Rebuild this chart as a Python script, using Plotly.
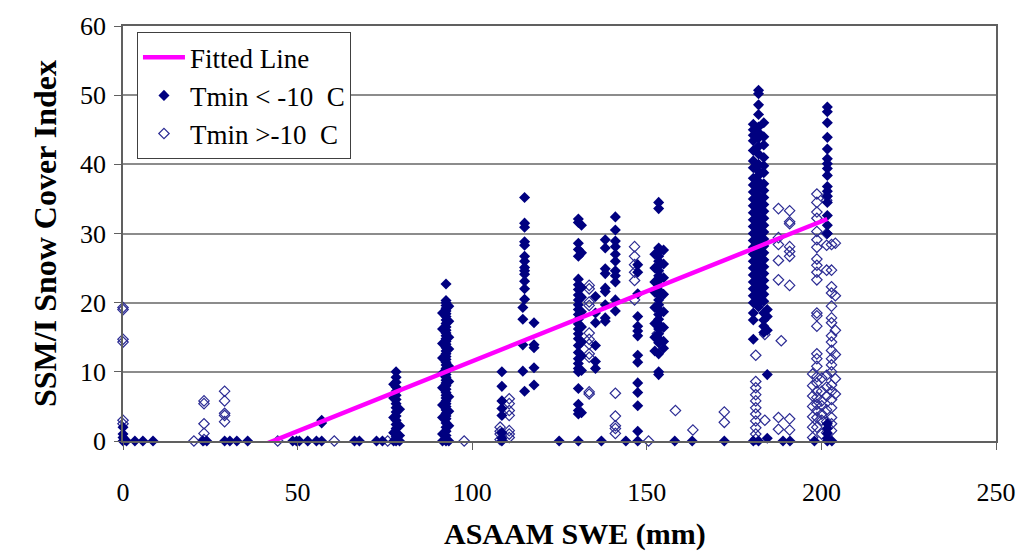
import plotly.graph_objects as go

# ---- Tmin < -10 C (filled diamonds): SWE column positions and the index values observed at each ----
cold_swe = [
    0, 1, 3.4, 5.7, 8.6, 22.9, 24, 29.1, 30.6, 32.6, 35.7, 48.6, 49.7, 50.5, 52.9,
    55.4, 56.9, 66.3, 67.7, 72.6, 74.3,
    77.5, 78.2, 79.2,
    91.5, 92.5, 93.3,
    108.5, 114.5, 115.0, 117.7, 124.9,
    130.4, 131.3, 135.3, 137.0, 138.1, 141.0, 144.0, 147.4,
    152.3, 153.4, 154.8, 158.0, 163.0, 172.2,
    180.5, 182.0, 183.5, 184.5, 189.0, 191.0, 198.0, 201.7, 203.0,
]
cold_sci = [
    [0, 0.5, 1.0, 2.0], [0], [0], [0], [0], [0], [0], [0], [0], [0], [0], [0], [0], [0], [0],
    [0], [0, 2.6, 3.0], [0], [0], [0], [0],
    [8.2, 6.2, 3.4, 1.2, 0],
    [10.0, 9.2, 8.5, 7.8, 7.2, 6.6, 6.0, 5.4, 4.8, 4.2, 3.6, 3.0, 2.4, 1.8, 1.2, 0.6, 0],
    [4.6, 2.2, 0.8, 0],
    [18.5, 16.2, 14.1, 12.0, 9.8, 7.7, 5.2, 3.4, 1.0, 0],
    [22.7, 20.3, 20.0, 19.6, 19.2, 18.8, 18.4, 18.0, 17.5, 17.0, 16.5, 16.0, 15.6, 15.2,
     14.8, 14.4, 14.0, 13.5, 13.0, 12.6, 12.2, 11.8, 11.4, 11.0, 10.5, 10.0, 9.6, 9.2,
     8.8, 8.4, 8.0, 7.5, 7.0, 6.6, 6.2, 5.8, 5.4, 5.0, 4.5, 4.0, 3.6, 3.2, 2.6, 2.0,
     1.4, 0.8, 0.3, 0],
    [19.5, 17.3, 15.0, 13.3, 10.8, 8.6, 6.4, 4.3, 2.2, 0],
    [10.0, 7.9, 5.8, 4.7, 3.7, 1.2, 0.4, 0],
    [19.3, 17.6, 13.9, 10.1],
    [35.2, 31.5, 30.9, 28.8, 28.3, 26.7, 26.0, 25.1, 24.6, 24.1, 23.1, 22.0, 20.5, 7.2],
    [17.1, 13.9, 13.5, 10.6, 8.1],
    [0],
    [32.1, 31.6, 28.6, 27.7, 26.7, 23.4, 22.6, 21.9, 21.1, 20.4, 19.7, 19.0, 18.3, 17.6,
     16.9, 16.2, 15.5, 14.8, 13.8, 12.8, 11.9, 11.2, 10.5, 10.0, 7.6, 5.3, 4.4, 3.9, 0],
    [31.2, 27.2, 22.2, 20.8, 18.7, 16.5, 14.3, 12.3, 10.2, 4.1],
    [20.9, 18.5, 17.1, 13.8, 11.5, 10.5],
    [0],
    [29.1, 27.9, 24.9, 24.2, 22.1, 21.6, 19.7, 17.8, 17.3],
    [32.4, 30.5, 28.9, 28.1, 27.0, 26.0, 24.6, 23.9, 23.0, 20.4, 18.8],
    [0],
    [25.5, 24.4, 21.3, 18.0, 16.6, 15.9, 15.2, 12.4, 11.4, 8.4, 7.0, 5.1, 1.4, 0],
    [27.0, 25.0, 23.0, 21.5, 19.3, 17.0, 15.0, 13.0],
    [34.5, 33.6, 27.9, 27.4, 26.7, 26.0, 25.3, 24.6, 23.9, 23.2, 22.5, 21.8, 21.1, 20.4,
     19.7, 19.0, 18.3, 17.6, 16.9, 16.2, 15.5, 14.8, 14.2, 12.6, 10.0, 9.6],
    [27.6, 25.6, 23.6, 21.2, 18.7, 16.4, 14.4, 13.4],
    [0], [0], [0],
    [45.8, 45.0, 44.2, 43.4, 42.0, 40.5, 39.5, 38.0, 37.0, 36.0, 35.0, 34.0, 33.0, 32.0,
     31.0, 30.0, 29.0, 28.0, 27.0, 26.0, 25.0, 24.0, 23.0, 22.0, 21.0, 20.0, 18.5, 17.5,
     14.7, 0],
    [50.7, 50.2, 48.6, 47.2, 45.4, 44.6, 43.8, 42.6, 41.5, 40.0, 39.0, 38.4, 37.5, 36.5,
     35.5, 34.5, 33.5, 32.5, 31.5, 30.5, 29.5, 28.5, 27.5, 26.5, 25.5, 24.5, 23.5, 22.5,
     21.5, 20.5, 19.9, 19.4, 0],
    [46.0, 44.0, 42.8, 41.0, 39.8, 38.8, 37.2, 36.2, 35.2, 34.2, 33.2, 32.2, 31.2, 30.2,
     29.2, 28.2, 27.2, 26.2, 25.2, 24.2, 23.2, 22.2, 21.2, 20.2, 18.5, 17.5, 16.6, 15.7],
    [19.0, 18.0, 16.0, 9.6, 0.4],
    [0], [0], [0],
    [48.3, 47.6, 46.0, 43.9, 42.2, 40.8, 40.1, 39.4, 38.4, 36.8, 36.1, 35.4, 34.5, 32.6,
     31.2, 30.0, 2.5, 1.8, 1.1, 0.4, 0],
    [0],
]

# ---- Tmin > -10 C (open diamonds) ----
warm_swe = [
    0, 20.3, 23.2, 29.1, 44.3, 60.5, 75.8, 97.7,
    108.0, 110.6, 133.5, 141.0, 146.5, 150.5, 153.0, 158.2, 163.2, 172.2,
    181.2, 183.8, 187.7, 188.5, 190.9,
    197.5, 198.7, 200.1, 201.5, 202.9, 204.0,
]
warm_sci = [
    [2.5, 3.0, 14.3, 14.7, 19.0, 19.3],
    [0],
    [5.8, 5.4, 2.5, 1.1, 0.2],
    [7.2, 5.8, 4.0, 3.7, 2.8],
    [0], [0], [0], [0],
    [2.0, 1.4, 1.0, 0.2],
    [6.1, 5.4, 4.4, 3.7, 1.5, 1.0, 0.5],
    [22.5, 22.0, 20.1, 19.6, 15.6, 14.7, 14.0, 12.6, 12.1, 7.1, 6.8],
    [6.9, 3.6, 2.2, 1.8, 1.1],
    [28.1, 26.7, 25.5, 24.4, 23.2, 20.4],
    [0],
    [15.5],
    [4.4],
    [1.6],
    [4.2, 2.7],
    [12.4, 8.6, 7.7, 6.7, 5.8, 4.8, 3.9, 2.9, 1.9, 1.0, 0.3],
    [15.4, 3.0],
    [33.6, 29.4, 28.4, 26.1, 23.3, 3.4, 1.7],
    [14.5],
    [33.3, 31.7, 31.4, 28.1, 27.4, 26.7, 22.5, 3.2, 1.6],
    [9.7, 8.0, 6.5, 5.0, 3.5, 2.0, 0.5],
    [35.7, 34.5, 33.1, 32.2, 30.3, 29.1, 28.0, 26.3, 25.4, 24.4, 23.3, 18.5, 18.1, 16.6,
     12.6, 11.9, 10.8, 9.3, 8.4, 7.2, 6.3, 5.3, 4.4, 3.4, 2.0],
    [9.1, 7.2, 5.8, 5.1, 3.9, 3.0, 1.0],
    [35.4, 34.8, 30.0, 28.3, 24.7, 9.5, 7.8, 6.5, 4.5, 2.8, 1.2],
    [28.4, 24.7, 22.3, 21.4, 19.5, 17.8, 17.1, 15.2, 14.3, 13.1, 11.9, 11.0, 10.0, 8.1,
     7.2, 6.0, 4.8, 3.4, 2.5, 1.5],
    [28.6, 21.0, 16.0, 12.5, 9.0, 6.8],
]

# ---- Fitted regression line end points ----
fit_swe = [40.5, 201.7]
fit_sci = [-0.5, 32.1]


def flatten(cols, vals):
    xs, ys = [], []
    for x, col in zip(cols, vals):
        for y in col:
            xs.append(x)
            ys.append(y)
    return xs, ys


cold_x, cold_y = flatten(cold_swe, cold_sci)
warm_x, warm_y = flatten(warm_swe, warm_sci)

SERIF = "Liberation Serif, Times New Roman, serif"

fig = go.Figure()
fig.add_trace(go.Scatter(
    x=warm_x, y=warm_y, mode="markers", name="Tmin &gt;-10\u00a0 C",
    marker=dict(symbol="diamond-open", size=8, color="#2c2c94", line=dict(width=1.2)),
    cliponaxis=False, legendrank=3, legendgroup="c",
))
fig.add_trace(go.Scatter(
    x=cold_x, y=cold_y, mode="markers", name="Tmin &lt; -10\u00a0 C",
    marker=dict(symbol="diamond", size=8.5, color="#000080"),
    cliponaxis=False, legendrank=2, legendgroup="b",
))
fig.add_trace(go.Scatter(
    x=fit_swe, y=fit_sci, mode="lines", name="Fitted Line",
    line=dict(color="#ff00ff", width=4.5),
    cliponaxis=False, legendrank=1, legendgroup="a",
))

fig.update_layout(
    width=1028, height=556,
    margin=dict(l=123, r=30, t=15, b=115),
    paper_bgcolor="white", plot_bgcolor="white",
    font=dict(family=SERIF, color="black", size=24),
    showlegend=True,
    legend=dict(
        x=0.016, y=0.985, xanchor="left", yanchor="top",
        bgcolor="white", bordercolor="#404040", borderwidth=1,
        font=dict(family=SERIF, size=27, color="black"),
        traceorder="grouped", tracegroupgap=0,
        itemwidth=42,
    ),
    xaxis=dict(
        range=[0, 250], tickvals=[0, 50, 100, 150, 200, 250],
        showgrid=False, zeroline=False,
        showline=True, linecolor="#606060", linewidth=1.5, mirror=True,
        ticks="outside", ticklen=7, tickcolor="#606060",
        tickfont=dict(family=SERIF, size=26),
        ticklabelstandoff=20,
    ),
    yaxis=dict(
        range=[0, 60], tickvals=[0, 10, 20, 30, 40, 50, 60],
        showgrid=True, gridcolor="#8c8c8c", gridwidth=1.5,
        zeroline=False,
        showline=True, linecolor="#606060", linewidth=1.5, mirror=True,
        ticks="outside", ticklen=7, tickcolor="#606060",
        tickfont=dict(family=SERIF, size=26),
        ticklabelstandoff=3,
        title=dict(text="<b>SSM/I Snow Cover Index</b>", font=dict(family=SERIF, size=32), standoff=14),
    ),
    annotations=[dict(
        text="<b>ASAAM SWE (mm)</b>", xref="paper", yref="paper",
        x=0.518, y=-0.225, xanchor="center", yanchor="middle", showarrow=False,
        font=dict(family=SERIF, size=30, color="black"),
    )],
)

fig.write_html("out.html")
